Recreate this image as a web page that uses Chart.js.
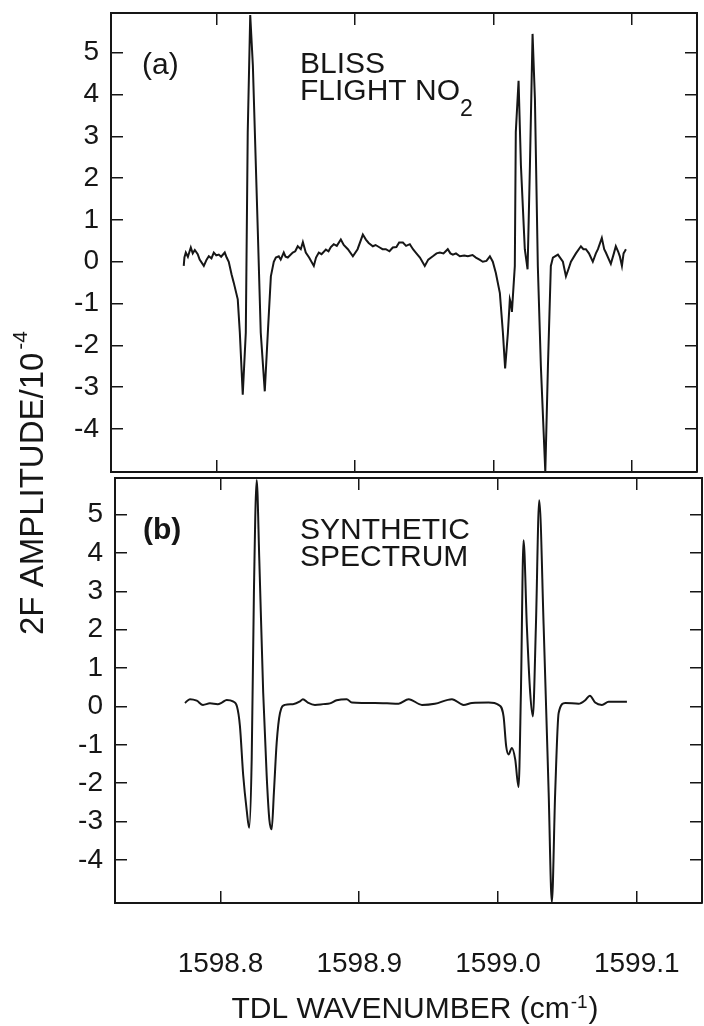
<!DOCTYPE html>
<html>
<head>
<meta charset="utf-8">
<script src="https://cdn.jsdelivr.net/npm/chart.js@4.4.1/dist/chart.umd.min.js"></script>
<style>
  html, body { margin: 0; padding: 0; background: #fff; }
  #wrap { position: relative; width: 704px; height: 1026px; }
  .box { position: absolute; left: 0; top: 0; width: 704px; }
</style>
</head>
<body>
<div id="wrap">
  <div class="box" style="height:1026px"><canvas id="chartB"></canvas></div>
  <div class="box" style="height:475px"><canvas id="chartA"></canvas></div>
</div>
<script>
// shared axes
const xTicks = [1598.8, 1598.9, 1599.0, 1599.1];
const yTicks = [-4, -3, -2, -1, 0, 1, 2, 3, 4, 5];
const xRange = [1598.724, 1599.147];

// (a) BLISS flight spectrum
const flightWave = [
  1598.7765, 1598.7770, 1598.7780, 1598.7795, 1598.7816, 1598.7830, 1598.7845, 1598.7866, 1598.7880, 1598.7910,
  1598.7930, 1598.7946, 1598.7965, 1598.7982, 1598.8000, 1598.8018, 1598.8035, 1598.8061, 1598.8075, 1598.8090,
  1598.8110, 1598.8126, 1598.8155, 1598.8170, 1598.8191, 1598.8213, 1598.8227, 1598.8245, 1598.8264, 1598.8300,
  1598.8321, 1598.8350, 1598.8372, 1598.8394, 1598.8415, 1598.8430, 1598.8451, 1598.8465, 1598.8487, 1598.8500,
  1598.8516, 1598.8552, 1598.8570, 1598.8588, 1598.8610, 1598.8625, 1598.8646, 1598.8670, 1598.8704, 1598.8720,
  1598.8740, 1598.8760, 1598.8791, 1598.8810, 1598.8827, 1598.8848, 1598.8870, 1598.8899, 1598.8920, 1598.8950,
  1598.8986, 1598.9020, 1598.9058, 1598.9080, 1598.9100, 1598.9130, 1598.9150, 1598.9180, 1598.9200, 1598.9224,
  1598.9250, 1598.9274, 1598.9300, 1598.9320, 1598.9347, 1598.9370, 1598.9397, 1598.9420, 1598.9440, 1598.9470,
  1598.9505, 1598.9530, 1598.9563, 1598.9590, 1598.9614, 1598.9640, 1598.9671, 1598.9690, 1598.9708, 1598.9730,
  1598.9758, 1598.9790, 1598.9816, 1598.9850, 1598.9874, 1598.9900, 1598.9924, 1598.9950, 1598.9975, 1598.9996,
  1599.0018, 1599.0047, 1599.0069, 1599.0085, 1599.0105, 1599.0119, 1599.0127, 1599.0134, 1599.0155, 1599.0162,
  1599.0182, 1599.0199, 1599.0227, 1599.0247, 1599.0264, 1599.0283, 1599.0300, 1599.0321, 1599.0343, 1599.0375,
  1599.0394, 1599.0415, 1599.0430, 1599.0466, 1599.0502, 1599.0524, 1599.0545, 1599.0560, 1599.0596, 1599.0632,
  1599.0650, 1599.0668, 1599.0690, 1599.0718, 1599.0740, 1599.0755, 1599.0783, 1599.0800, 1599.0812, 1599.0848,
  1599.0870, 1599.0884, 1599.0900, 1599.0913, 1599.0928, 1599.0940, 1599.0949, 1599.0957
];
const flightAmp = [
  -0.10, 0.10, 0.22, 0.12, 0.34, 0.20, 0.28, 0.18, 0.05, -0.10,
  0.05, 0.13, 0.08, 0.22, 0.15, 0.17, 0.12, 0.22, 0.10, 0.00,
  -0.30, -0.50, -0.90, -1.70, -3.18, -1.70, 3.10, 5.90, 4.70, 0.70,
  -1.70, -3.10, -1.70, -0.35, 0.00, 0.10, 0.13, 0.05, 0.22, 0.12,
  0.10, 0.22, 0.25, 0.37, 0.30, 0.47, 0.22, 0.10, -0.10, 0.10,
  0.22, 0.18, 0.29, 0.25, 0.35, 0.42, 0.38, 0.53, 0.40, 0.30,
  0.13, 0.30, 0.65, 0.53, 0.45, 0.37, 0.40, 0.34, 0.30, 0.30,
  0.25, 0.34, 0.35, 0.46, 0.46, 0.38, 0.42, 0.30, 0.22, 0.10,
  -0.10, 0.05, 0.13, 0.20, 0.22, 0.20, 0.30, 0.20, 0.17, 0.20,
  0.13, 0.15, 0.13, 0.16, 0.10, 0.05, 0.00, 0.02, 0.13, 0.00,
  -0.27, -0.75, -1.70, -2.55, -1.70, -0.90, -1.00, -1.20, -0.10, 3.10,
  4.33, 2.30, 0.30, -0.18, 2.30, 5.45, 3.90, -0.10, -2.50, -5.03,
  -2.50, -0.10, 0.10, 0.17, 0.00, -0.35, -0.15, 0.00, 0.20, 0.37,
  0.30, 0.30, 0.20, 0.00, 0.20, 0.30, 0.57, 0.30, 0.22, -0.05,
  0.20, 0.37, 0.25, 0.13, -0.10, 0.20, 0.25, 0.30
];

// (b) synthetic spectrum
const synthWave = [
  1598.7744, 1598.7780, 1598.7829, 1598.7874, 1598.7924, 1598.7980, 1598.8010, 1598.8045, 1598.8090, 1598.8119,
  1598.8140, 1598.8164, 1598.8189, 1598.8207, 1598.8225, 1598.8241, 1598.8261, 1598.8280, 1598.8308, 1598.8333,
  1598.8352, 1598.8369, 1598.8385, 1598.8405, 1598.8429, 1598.8465, 1598.8522, 1598.8573, 1598.8594, 1598.8630,
  1598.8681, 1598.8740, 1598.8789, 1598.8837, 1598.8909, 1598.8947, 1598.9019, 1598.9113, 1598.9200, 1598.9284,
  1598.9356, 1598.9452, 1598.9545, 1598.9668, 1598.9752, 1598.9812, 1598.9932, 1599.0004, 1599.0040, 1599.0059,
  1599.0076, 1599.0100, 1599.0124, 1599.0148, 1599.0165, 1599.0184, 1599.0208, 1599.0232, 1599.0251, 1599.0273,
  1599.0297, 1599.0329, 1599.0365, 1599.0388, 1599.0412, 1599.0437, 1599.0484, 1599.0581, 1599.0628, 1599.0662,
  1599.0700, 1599.0749, 1599.0797, 1599.0869, 1599.0929
];
const synthAmp = [
  0.09, 0.19, 0.15, 0.04, 0.08, 0.06, 0.10, 0.17, 0.13, 0.00,
  -0.50, -1.80, -2.70, -3.16, -1.38, 2.95, 5.90, 3.80, 0.35, -1.80,
  -2.94, -3.20, -2.25, -0.95, -0.17, 0.04, 0.06, 0.13, 0.19, 0.10,
  0.04, 0.06, 0.08, 0.16, 0.19, 0.10, 0.09, 0.09, 0.08, 0.07,
  0.19, 0.04, 0.07, 0.19, 0.04, 0.09, 0.10, 0.04, -0.26, -1.04,
  -1.25, -1.08, -1.38, -2.10, 0.35, 4.33, 2.08, 0.35, -0.26, 2.08,
  5.37, 2.08, -2.25, -5.10, -2.25, -0.17, 0.09, 0.07, 0.16, 0.28,
  0.10, 0.04, 0.12, 0.12, 0.12
];

const INK = '#161616';
const FONT = "'Liberation Sans', Arial, Helvetica, sans-serif";

function toPoints(xs, ys) {
  return xs.map((x, i) => ({x: x, y: ys[i]}));
}

// draws a run of text pieces (for sub/superscripts)
function drawRich(ctx, parts, x, y, align) {
  let total = 0;
  for (const p of parts) {
    ctx.font = (p.bold ? 'bold ' : '') + p.size + 'px ' + FONT;
    p.w = ctx.measureText(p.t).width;
    total += p.w + (p.gap || 0);
  }
  let cx = align === 'center' ? x - total / 2 : x;
  ctx.textAlign = 'left';
  ctx.textBaseline = 'alphabetic';
  ctx.fillStyle = INK;
  for (const p of parts) {
    ctx.font = (p.bold ? 'bold ' : '') + p.size + 'px ' + FONT;
    cx += p.gap || 0;
    ctx.fillText(p.t, cx, y + (p.dy || 0));
    cx += p.w;
  }
}

function tickGrid() {
  return {drawOnChartArea: false, drawTicks: true, tickLength: -12, tickWidth: 1.5, tickColor: INK, color: INK, lineWidth: 1.5};
}

function panelScales(yMin, yMax, size, showX) {
  const xSet = s => { s.ticks = xTicks.map(v => ({value: v})); };
  const ySet = s => { s.ticks = yTicks.map(v => ({value: v})); };
  const border = {display: true, color: INK, width: 2};
  return {
    x: {
      type: 'linear', position: 'bottom', min: xRange[0], max: xRange[1],
      afterBuildTicks: xSet,
      afterFit: s => { s.height = size.bottom; s.paddingLeft = 0; s.paddingRight = 0; },
      ticks: {display: showX, color: INK, font: {family: FONT, size: 28}, padding: 56,
              maxRotation: 0, autoSkip: false, callback: v => v.toFixed(1)},
      grid: tickGrid(), border: border
    },
    xTop: {
      type: 'linear', position: 'top', min: xRange[0], max: xRange[1],
      afterBuildTicks: xSet,
      afterFit: s => { s.height = size.top; s.paddingLeft = 0; s.paddingRight = 0; },
      ticks: {display: false}, grid: tickGrid(), border: border
    },
    y: {
      type: 'linear', position: 'left', min: yMin, max: yMax,
      afterBuildTicks: ySet,
      afterFit: s => { s.width = size.left; s.paddingTop = 0; s.paddingBottom = 0; },
      ticks: {color: INK, font: {family: FONT, size: 28}, padding: 24, callback: v => String(v)},
      grid: tickGrid(), border: border
    },
    yRight: {
      type: 'linear', position: 'right', min: yMin, max: yMax,
      afterBuildTicks: ySet,
      afterFit: s => { s.width = size.right; s.paddingTop = 0; s.paddingBottom = 0; },
      ticks: {display: false}, grid: tickGrid(), border: border
    }
  };
}

// panel text, placed from the plot area corner
function panelText(tag, lines) {
  return {
    id: 'panelText',
    afterDraw(chart) {
      const a = chart.chartArea, ctx = chart.ctx;
      ctx.save();
      drawRich(ctx, [{t: tag.t, size: 30, bold: tag.bold}], a.left + tag.dx, a.top + 61);
      lines.forEach((ln, i) => drawRich(ctx, ln, a.left + 189 - (tag.bold ? 4 : 0), a.top + 60 + i * 27 + (tag.bold ? 1 : 0)));
      ctx.restore();
    }
  };
}

const axisTitles = {
  id: 'axisTitles',
  afterDraw(chart) {
    const ctx = chart.ctx;
    ctx.save();
    drawRich(ctx, [{t: 'TDL WAVENUMBER (cm', size: 30}, {t: '-1', size: 19, dy: -10, gap: 1}, {t: ')', size: 30, gap: 1}], 415, 1018, 'center');
    ctx.translate(43, 483);
    ctx.rotate(-Math.PI / 2);
    drawRich(ctx, [{t: '2F AMPLITUDE/10', size: 33}, {t: '-4', size: 21, dy: -16, gap: 3}], 0, 0, 'center');
    ctx.restore();
  }
};

function lineSet(xs, ys, smooth) {
  return {
    data: toPoints(xs, ys), borderColor: INK, borderWidth: 2, pointRadius: 0,
    tension: 0, cubicInterpolationMode: smooth ? 'monotone' : 'default', fill: false
  };
}

const common = {
  responsive: true, maintainAspectRatio: false, animation: false, devicePixelRatio: 1,
  plugins: {legend: {display: false}, tooltip: {enabled: false}}
};

new Chart(document.getElementById('chartA'), {
  type: 'line',
  data: {datasets: [lineSet(flightWave, flightAmp, false)]},
  options: Object.assign({}, common, {
    layout: {padding: 0},
    scales: panelScales(-5.03, 5.95, {left: 111, right: 7, top: 13, bottom: 3}, false)
  }),
  plugins: [panelText({t: '(a)', dx: 31, bold: false},
    [[{t: 'BLISS', size: 30}], [{t: 'FLIGHT NO', size: 30}, {t: '2', size: 23, dy: 16}]])]
});

new Chart(document.getElementById('chartB'), {
  type: 'line',
  data: {datasets: [lineSet(synthWave, synthAmp, true)]},
  options: Object.assign({}, common, {
    layout: {padding: {top: 475}},
    scales: panelScales(-5.12, 5.95, {left: 115, right: 2, top: 3, bottom: 123}, true)
  }),
  plugins: [panelText({t: '(b)', dx: 28, bold: true},
    [[{t: 'SYNTHETIC', size: 30}], [{t: 'SPECTRUM', size: 30}]]), axisTitles]
});
</script>
</body>
</html>
